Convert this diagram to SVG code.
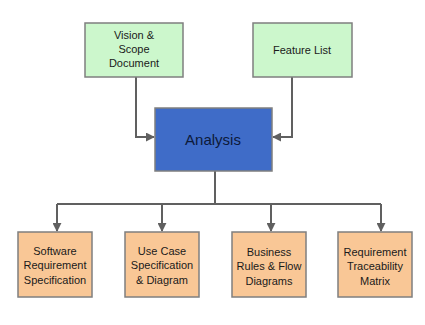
<svg xmlns="http://www.w3.org/2000/svg" width="425" height="325" viewBox="0 0 425 325">
<style>
.box{stroke:#7f7f7f;stroke-width:1.5}
.g{fill:#ccf7cc}
.o{fill:#f9c796}
.b{fill:#3f6cc8}
text{font-family:"Liberation Sans",Arial,sans-serif;font-size:11px;fill:#1a1a1a;text-anchor:middle}
.big{font-size:15px;fill:#0d1a3a}
.c{fill:none;stroke:#606060;stroke-width:2}
</style>
<defs>
<marker id="ah" viewBox="0 0 10 10" refX="9" refY="5" markerWidth="4.5" markerHeight="4.5" orient="auto" markerUnits="strokeWidth">
<path d="M0,0 L10,5 L0,10 z" fill="#606060"/>
</marker>
</defs>
<rect width="425" height="325" fill="#fff"/>
<g id="connectors">
<path class="c" d="M136,77 V137 H154" marker-end="url(#ah)"/>
<path class="c" d="M292,77 V137 H273" marker-end="url(#ah)"/>
<path class="c" d="M215,171 V204"/>
<path class="c" d="M57,204 H381"/>
<path class="c" d="M57,204 V231" marker-end="url(#ah)"/>
<path class="c" d="M162,204 V231" marker-end="url(#ah)"/>
<path class="c" d="M271,204 V231" marker-end="url(#ah)"/>
<path class="c" d="M381,204 V231" marker-end="url(#ah)"/>
</g>
<g id="vision">
<rect class="box g" x="85" y="23" width="98" height="54"/>
<text x="134" y="39">Vision &amp;</text>
<text x="134" y="53">Scope</text>
<text x="134" y="67">Document</text>
</g>
<g id="feature">
<rect class="box g" x="253" y="23" width="99" height="54"/>
<text x="302" y="54">Feature List</text>
</g>
<g id="analysis">
<rect class="box b" x="155" y="108" width="117" height="63"/>
<text class="big" x="213" y="145">Analysis</text>
</g>
<g id="srs">
<rect class="box o" x="18" y="232" width="74" height="65"/>
<text x="55" y="255">Software</text>
<text x="55" y="269">Requirement</text>
<text x="55" y="284">Specification</text>
</g>
<g id="usecase">
<rect class="box o" x="125" y="232" width="74" height="65"/>
<text x="162" y="255">Use Case</text>
<text x="162" y="269">Specification</text>
<text x="162" y="284">&amp; Diagram</text>
</g>
<g id="business">
<rect class="box o" x="232" y="232" width="74" height="65"/>
<text x="269" y="256">Business</text>
<text x="269" y="270">Rules &amp; Flow</text>
<text x="269" y="285">Diagrams</text>
</g>
<g id="rtm">
<rect class="box o" x="338" y="232" width="74" height="65"/>
<text x="375" y="256">Requirement</text>
<text x="375" y="270">Traceability</text>
<text x="375" y="285">Matrix</text>
</g>
</svg>
